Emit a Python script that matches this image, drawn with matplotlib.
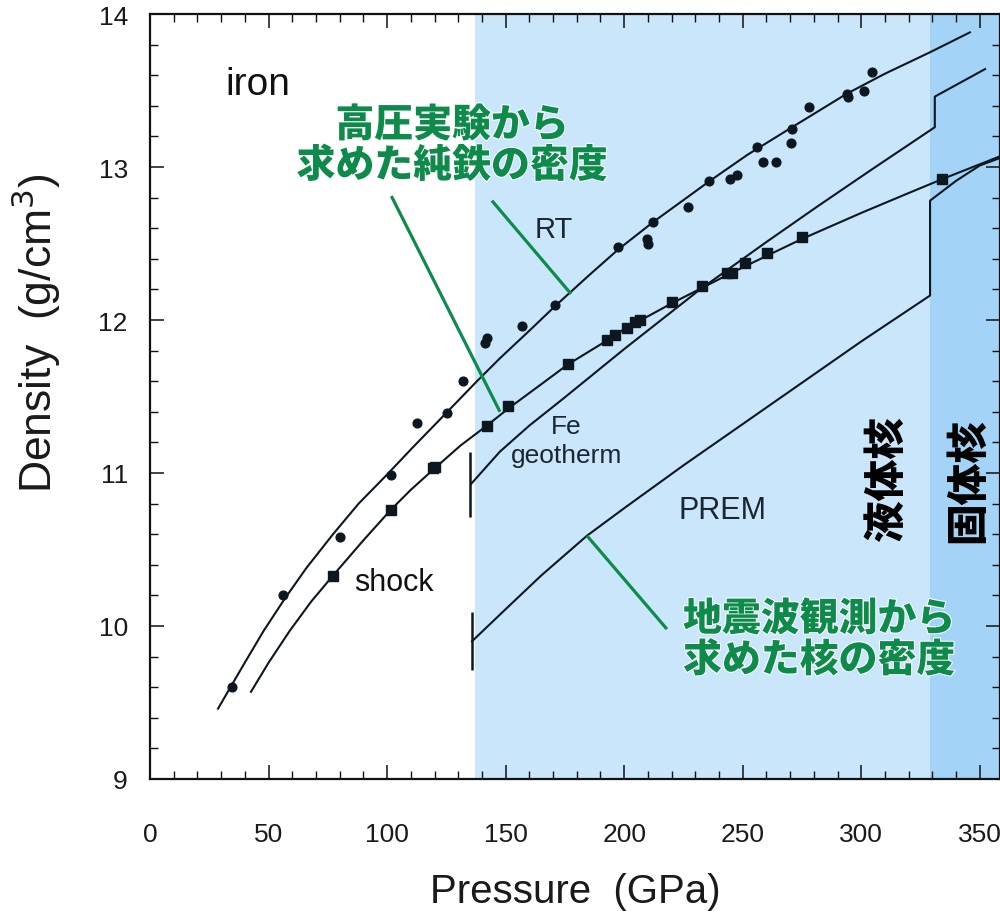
import numpy as np
import matplotlib
matplotlib.use("Agg")
import matplotlib.pyplot as plt
import matplotlib.patheffects as pe
from matplotlib.ticker import MultipleLocator

plt.rcParams['font.family'] = ['Liberation Sans', 'DejaVu Sans']

# core boundaries (GPa)
cmb_p = 137.0
icb_p = 329.0

# room-temperature isotherm (circles) and fit curve
rt_curve_p = [28.7, 39.2, 48.0, 56.9, 66.0, 77.2, 88.0, 100.0, 111.0, 122.3, 137.9,
              147.6, 160.0, 170.8, 185.0, 197.4, 212.2, 236.2, 252.0, 270.8, 294.0,
              310.0, 329.0, 345.8]
rt_curve_rho = [9.46, 9.74, 9.97, 10.18, 10.38, 10.60, 10.80, 10.99, 11.17, 11.35, 11.60,
                11.75, 11.93, 12.09, 12.29, 12.46, 12.64, 12.91, 13.08, 13.26, 13.48,
                13.61, 13.75, 13.88]
rt_pts_p = [34.6, 56.1, 80.1, 101.6, 112.6, 125.3, 132.0, 141.3, 142.1, 156.9,
            170.8, 197.4, 209.6, 210.0, 212.2, 226.9, 235.8, 244.6, 247.6, 256.0,
            258.5, 264.0, 270.3, 270.8, 277.9, 294.0, 294.4, 301.1, 304.5]
rt_pts_rho = [9.60, 10.20, 10.58, 10.99, 11.33, 11.39, 11.60, 11.85, 11.88, 11.96,
              12.10, 12.48, 12.53, 12.50, 12.64, 12.74, 12.91, 12.92, 12.95, 13.13,
              13.03, 13.03, 13.16, 13.25, 13.39, 13.48, 13.46, 13.50, 13.62]

# shock (Hugoniot) curve and square points
hug_curve_p = [42.6, 50.0, 59.0, 68.0, 77.2, 90.0, 101.6, 110.0, 120.0, 131.0, 142.1,
               151.0, 165.0, 176.3, 190.0, 200.0, 220.2, 245.5, 260.2, 275.0, 300.0,
               320.0, 334.0, 358.5]
hug_curve_rho = [9.57, 9.76, 9.97, 10.16, 10.33, 10.56, 10.76, 10.89, 11.03, 11.18, 11.31,
                 11.42, 11.58, 11.71, 11.84, 11.94, 12.11, 12.31, 12.42, 12.53, 12.70,
                 12.83, 12.92, 13.07]
hug_pts_p = [77.2, 101.6, 119.4, 120.2, 142.1, 151.0, 176.3, 192.7, 196.1, 201.2,
             204.6, 206.7, 220.2, 232.8, 243.4, 245.5, 251.0, 260.2, 275.0, 334.0]
hug_pts_rho = [10.33, 10.76, 11.03, 11.04, 11.31, 11.44, 11.71, 11.87, 11.90, 11.95,
               11.99, 12.00, 12.12, 12.22, 12.31, 12.31, 12.37, 12.44, 12.54, 12.92]

# Fe along the core geotherm (outer / inner core)
geo_outer_p = [135.5, 147.6, 160.0, 173.8, 200.0, 232.0, 260.0, 281.3, 305.0, 331.0]
geo_outer_rho = [10.93, 11.14, 11.31, 11.48, 11.81, 12.20, 12.51, 12.74, 12.99, 13.26]
geo_inner_p = [331.0, 352.2]
geo_inner_rho = [13.46, 13.64]

# PREM core density
prem_outer_p = [135.8, 150.0, 165.0, 184.3, 200.0, 225.0, 250.0, 275.0, 300.0, 329.0]
prem_outer_rho = [9.90, 10.11, 10.33, 10.59, 10.77, 11.05, 11.32, 11.59, 11.86, 12.16]
prem_inner_p = [329.0, 340.0, 350.0, 363.9]
prem_inner_rho = [12.78, 12.91, 13.01, 13.09]

# uncertainty bars at the core-mantle boundary
bar_p = [135.0, 135.8]
bar_lo = [10.71, 9.71]
bar_hi = [11.14, 10.09]

# annotation leader lines (pressure, density pairs)
lead_exp_1 = ([101.8, 147.6], [12.81, 11.40])
lead_exp_2 = ([144.2, 177.6], [12.78, 12.17])
lead_prem = ([184.3, 218.0], [10.59, 9.98])

ink = '#0d1720'
green = '#0e8a4b'
cjk = ['Noto Sans CJK JP', 'DejaVu Sans']

fig = plt.figure(figsize=(10, 9.12), dpi=100)
ax = fig.add_axes([0.15, 132 / 912, 0.85, 765 / 912])
ax.set_xlim(0, 358.5)
ax.set_ylim(9, 14)

ax.axvspan(cmb_p, icb_p, color='#c9e6fb', lw=0, zorder=0)
ax.axvspan(icb_p, 400, color='#a3d4f8', lw=0, zorder=0)

lw = 1.5
ax.plot(rt_curve_p, rt_curve_rho, color=ink, lw=lw, zorder=3)
ax.plot(rt_pts_p, rt_pts_rho, 'o', color=ink, ms=6.3, zorder=4)
ax.plot(hug_curve_p, hug_curve_rho, color=ink, lw=lw, zorder=3)
ax.plot(hug_pts_p, hug_pts_rho, 's', color=ink, ms=6.5, zorder=4)

# curves with a density jump at the inner-core boundary
ax.plot(geo_outer_p + geo_inner_p, geo_outer_rho + geo_inner_rho,
        color=ink, lw=lw, zorder=3)
ax.plot(prem_outer_p + prem_inner_p, prem_outer_rho + prem_inner_rho,
        color=ink, lw=lw, zorder=3)

ax.vlines(bar_p, bar_lo, bar_hi, color=ink, lw=1.8, zorder=3)

for xs, ys in (lead_exp_1, lead_exp_2, lead_prem):
    ax.plot(xs, ys, color=green, lw=2.3, zorder=5, solid_capstyle='butt')

# labels
ax.text(31.6, 13.48, 'iron', fontsize=28, color='#111111', ha='left', va='baseline')
ax.text(170.4, 12.595, 'RT', fontsize=21, color='#1b2631', ha='center', va='center')
ax.text(175.5, 11.31, 'Fe', fontsize=19, color='#1b2631', ha='center', va='center')
ax.text(175.5, 11.12, 'geotherm', fontsize=19, color='#1b2631', ha='center', va='center')
ax.text(102.9, 10.29, 'shock', fontsize=22, color='#111111', ha='center', va='center')
ax.text(241.3, 10.76, 'PREM', fontsize=22, color='#1b2631', ha='center', va='center')

halo = [pe.withStroke(linewidth=1.5, foreground='white')]
for txt, x, y in (('高圧実験から', 127.4, 13.275), ('求めた純鉄の密度', 127.4, 13.01),
                  ('地震波観測から', 282.2, 10.046), ('求めた核の密度', 282.2, 9.778)):
    ax.text(x, y, txt, family=cjk, fontsize=28, fontweight='black', color=green,
            ha='center', va='center', path_effects=halo, zorder=6)

ax.text(310.8, 10.97, '液体核', family=cjk, fontsize=30, fontweight='black',
        color='black', rotation=90, ha='center', va='center', zorder=6)
ax.text(345.0, 10.96, '固体核', family=cjk, fontsize=30, fontweight='black',
        color='black', rotation=90, ha='center', va='center', zorder=6)

# axes styling
ax.xaxis.set_major_locator(MultipleLocator(50))
ax.xaxis.set_minor_locator(MultipleLocator(10))
ax.yaxis.set_major_locator(MultipleLocator(1))
ax.yaxis.set_minor_locator(MultipleLocator(0.2))
ax.tick_params(which='both', direction='in', top=True, right=True, color='#111111')
ax.tick_params(which='major', length=10, width=1.1)
ax.tick_params(which='minor', length=5.5, width=1.0)
ax.tick_params(axis='x', which='major', pad=31, labelsize=19, labelcolor='#1a1a1a')
ax.tick_params(axis='y', which='major', pad=16, labelsize=19, labelcolor='#1a1a1a')
for s in ax.spines.values():
    s.set_linewidth(1.6)
    s.set_color('#111111')

fig.text(0.575, 1 - 903 / 912, 'Pressure  (GPa)', fontsize=29, color='#1a1a1a',
         ha='center', va='baseline')
fig.text(0.036, 1 - 333 / 912, 'Density  (g/cm$^3$)', fontsize=32, color='#1a1a1a',
         rotation=90, ha='center', va='center')

fig.savefig('out.png', dpi=100)
